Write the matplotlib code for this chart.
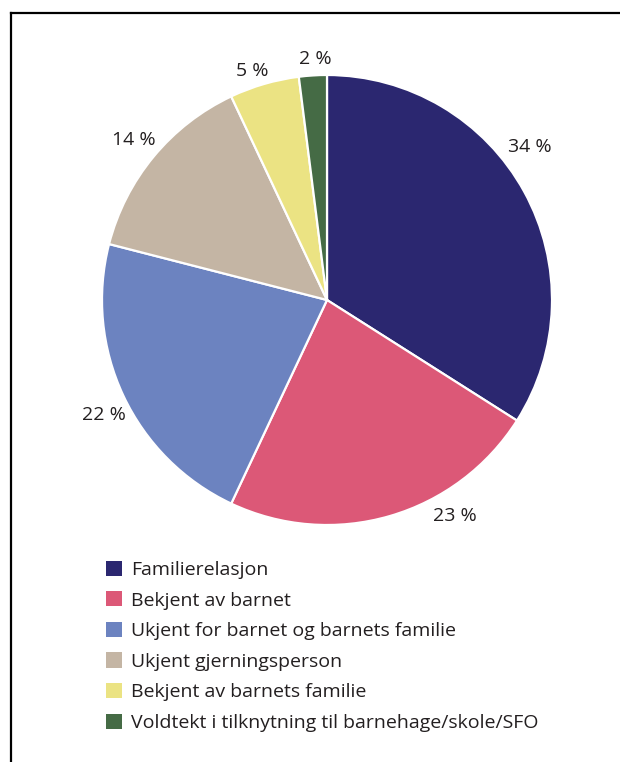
import matplotlib.pyplot as plt
from matplotlib.patches import Patch
from matplotlib.lines import Line2D

plt.rcParams['font.family'] = ['Open Sans', 'DejaVu Sans']

categories = [
    "Familierelasjon",
    "Bekjent av barnet",
    "Ukjent for barnet og barnets familie",
    "Ukjent gjerningsperson",
    "Bekjent av barnets familie",
    "Voldtekt i tilknytning til barnehage/skole/SFO",
]
shares = [34, 23, 22, 14, 5, 2]
colors = ["#2b2770", "#dc5877", "#6c83c0", "#c4b5a4", "#ebe383", "#456b45"]

# where each percentage label sits (axes data units, pie radius = 1)
label_pos = [(0.90, 0.68), (0.57, -0.96), (-0.99, -0.51),
             (-0.86, 0.71), (-0.33, 1.02), (-0.05, 1.07)]

W, H = 620, 762
fig = plt.figure(figsize=(W / 100, H / 100), dpi=100)

r = 225
cx, cy = 327, 300
ax = fig.add_axes([(cx - r) / W, 1 - (cy + r) / H, 2 * r / W, 2 * r / H])
wedges, _ = ax.pie(shares, colors=colors, startangle=90, counterclock=False,
                   radius=1, wedgeprops=dict(edgecolor="white", linewidth=1.6))
ax.set_xlim(-1, 1)
ax.set_ylim(-1, 1)
ax.set_aspect("equal")
ax.axis("off")

for v, (x, y) in zip(shares, label_pos):
    ax.text(x, y, f"{v} %", ha="center", va="center", fontsize=14,
            color="#231f20", clip_on=False)

handles = [Patch(facecolor=c, edgecolor="none") for c in colors]
fig.legend(handles, categories, loc="upper left",
           bbox_to_anchor=(98 / W, 1 - 553 / H), frameon=False,
           fontsize=14, handlelength=0.82, handleheight=0.82,
           handletextpad=0.5, labelspacing=0.63, borderaxespad=0,
           labelcolor="#231f20")

# frame lines (top and left only)
fig.add_artist(Line2D([10.5 / W, 1], [1 - 12.5 / H, 1 - 12.5 / H],
                      transform=fig.transFigure, color="black", linewidth=1.6))
fig.add_artist(Line2D([10.5 / W, 10.5 / W], [0, 1 - 12.5 / H],
                      transform=fig.transFigure, color="black", linewidth=1.6))

fig.savefig("out.png", dpi=100)
